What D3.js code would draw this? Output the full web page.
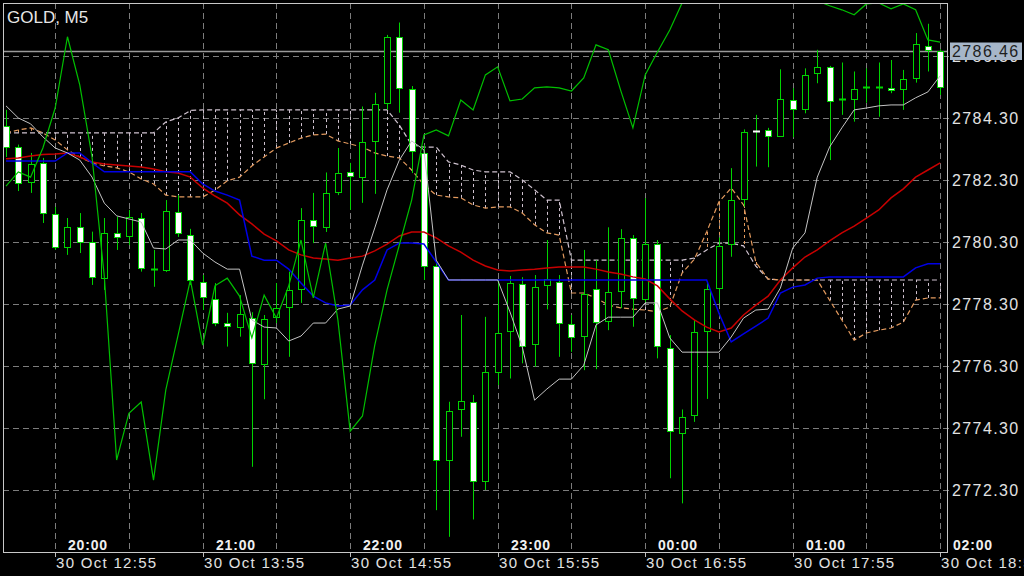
<!DOCTYPE html>
<html><head><meta charset="utf-8">
<script src="https://cdn.jsdelivr.net/npm/d3@7"></script>
<style>html,body{margin:0;padding:0;background:#000;overflow:hidden}</style>
</head><body><svg id="c" width="1024" height="576"></svg>
<script>
const title = "GOLD, M5";
const opens=[2784.05,2783.37,2782.24,2782.86,2781.21,2780.14,2780.78,2780.32,2779.13,2780.61,
 2780.50,2781.09,2779.42,2779.40,2781.28,2780.53,2779.02,2778.46,2777.68,2777.55,
 2777.86,2776.37,2777.87,2778.20,2778.79,2781.00,2780.80,2781.93,2782.58,2782.41,
 2783.57,2784.80,2786.92,2785.24,2783.17,2779.53,2773.27,2774.90,2775.13,2772.60,
 2776.12,2777.43,2778.95,2777.00,2778.92,2779.00,2777.66,2777.28,2778.78,2777.75,
 2778.72,2780.43,2778.46,2780.23,2776.87,2774.15,2774.72,2777.43,2778.81,2780.24,
 2781.68,2783.89,2783.92,2783.73,2784.89,2784.60,2785.75,2785.95,2784.91,2784.91,
 2785.30,2785.30,2785.27,2785.24,2785.59,2786.63,2786.47];
const highs=[2784.57,2783.45,2783.18,2783.02,2781.44,2781.08,2781.24,2780.64,2781.08,2781.12,
 2781.34,2781.24,2780.05,2781.66,2781.82,2780.73,2779.24,2778.98,2778.02,2778.59,
 2778.04,2777.95,2778.98,2779.35,2781.40,2781.89,2782.55,2783.34,2782.86,2784.68,
 2785.12,2786.99,2787.39,2785.34,2783.44,2779.66,2775.15,2777.95,2775.37,2777.89,
 2779.08,2779.21,2779.17,2779.24,2780.37,2779.24,2777.95,2780.05,2779.72,2780.78,
 2780.72,2780.53,2781.72,2780.37,2777.30,2774.90,2777.79,2779.01,2780.45,2782.69,
 2783.94,2784.41,2783.99,2785.88,2785.27,2785.91,2786.51,2785.99,2786.10,2785.81,
 2785.91,2786.10,2786.18,2785.86,2787.05,2787.35,2786.53];
const lows=[2783.05,2781.95,2781.89,2780.92,2780.05,2779.89,2779.95,2778.92,2778.76,2780.05,
 2780.21,2779.35,2778.86,2779.34,2780.47,2778.92,2778.11,2777.59,2776.93,2777.25,
 2773.05,2775.23,2777.69,2776.60,2778.34,2780.27,2780.63,2781.82,2781.34,2781.57,
 2781.86,2784.57,2784.48,2782.53,2779.08,2771.65,2770.79,2774.02,2771.35,2772.30,
 2775.69,2775.90,2776.39,2776.28,2778.13,2776.60,2776.76,2776.17,2776.20,2777.46,
 2778.17,2777.57,2778.35,2776.55,2772.68,2771.87,2774.50,2775.24,2778.33,2779.83,
 2781.45,2782.74,2782.72,2783.71,2783.69,2784.46,2785.43,2782.95,2784.41,2784.19,
 2784.80,2784.35,2785.11,2784.57,2785.45,2785.81,2785.05];
const closes=[2783.38,2782.22,2782.82,2781.24,2780.15,2780.79,2780.32,2779.17,2780.59,2780.48,
 2781.10,2779.46,2779.44,2781.32,2780.59,2779.08,2778.52,2777.70,2777.59,2777.98,
 2776.39,2777.81,2778.17,2778.76,2781.02,2780.82,2781.90,2782.54,2782.44,2783.54,
 2784.76,2786.92,2785.27,2783.24,2779.53,2773.27,2774.86,2775.17,2772.60,2776.12,
 2777.38,2778.97,2776.96,2778.86,2779.10,2777.70,2777.25,2778.62,2777.73,2778.70,
 2780.43,2778.51,2780.24,2776.95,2774.21,2774.66,2777.41,2778.79,2780.18,2781.66,
 2783.85,2783.88,2783.74,2784.91,2784.60,2785.70,2785.95,2784.87,2784.91,2785.24,
 2785.30,2785.30,2785.21,2785.56,2786.69,2786.51,2785.30];
const tenkan=[2784.70,2784.31,2784.12,2783.70,2783.34,2783.18,2782.95,2782.40,2781.56,2781.15,
 2781.05,2780.95,2780.11,2780.08,2780.37,2780.37,2779.95,2779.66,2779.43,2779.43,
 2777.79,2777.56,2777.53,2777.11,2777.27,2777.69,2777.69,2778.14,2778.24,2779.56,
 2780.76,2781.99,2782.95,2783.57,2783.28,2779.72,2779.08,2779.08,2779.08,2779.08,
 2779.08,2778.05,2776.92,2775.20,2775.56,2775.88,2775.88,2776.33,2777.63,2777.88,
 2777.88,2777.88,2778.34,2778.34,2777.21,2776.75,2776.75,2776.75,2776.75,2777.24,
 2777.85,2778.11,2778.14,2778.82,2780.11,2780.60,2782.40,2783.37,2783.99,2784.57,
 2784.63,2784.70,2784.73,2784.73,2784.96,2785.15,2785.67];
const kijun=[2782.92,2782.92,2782.92,2782.92,2782.92,2783.18,2783.18,2782.86,2782.57,2782.57,
 2782.57,2782.57,2782.57,2782.57,2782.57,2782.57,2782.18,2781.95,2781.82,2781.66,
 2779.85,2779.72,2779.72,2779.43,2778.98,2778.56,2778.34,2778.24,2778.27,2778.76,
 2779.08,2780.05,2780.27,2780.27,2780.24,2779.66,2779.08,2779.08,2779.08,2779.08,
 2779.08,2779.08,2779.08,2779.08,2779.08,2779.08,2779.08,2779.08,2779.08,2779.08,
 2779.08,2779.08,2779.08,2779.08,2779.08,2779.08,2779.08,2779.08,2778.01,2777.08,
 2777.34,2777.59,2777.85,2778.66,2778.85,2778.92,2779.14,2779.18,2779.18,2779.18,
 2779.18,2779.18,2779.18,2779.18,2779.47,2779.60,2779.60];
const maLine=[2782.99,2783.02,2783.08,2783.13,2783.15,2783.18,2783.05,2782.89,2782.82,2782.79,
 2782.76,2782.73,2782.66,2782.57,2782.53,2782.40,2782.05,2781.79,2781.56,2781.18,
 2780.89,2780.56,2780.34,2780.05,2779.89,2779.79,2779.76,2779.72,2779.79,2779.85,
 2780.02,2780.24,2780.50,2780.63,2780.63,2780.44,2780.18,2779.98,2779.72,2779.53,
 2779.40,2779.37,2779.40,2779.43,2779.47,2779.50,2779.50,2779.50,2779.43,2779.34,
 2779.27,2779.18,2779.11,2778.89,2778.47,2778.08,2777.79,2777.56,2777.40,2777.53,
 2777.95,2778.27,2778.56,2779.08,2779.47,2779.82,2780.05,2780.34,2780.60,2780.82,
 2781.08,2781.34,2781.73,2782.02,2782.40,2782.63,2782.86];
const spanA=[2783.83,2783.92,2783.99,2783.83,2783.60,2783.28,2783.05,2782.86,2782.76,2782.70,
 2782.57,2782.34,2782.18,2781.82,2781.76,2781.76,2781.76,2781.98,2782.28,2782.40,
 2782.76,2783.05,2783.34,2783.50,2783.66,2783.76,2783.79,2783.57,2783.47,2783.37,
 2783.18,2783.08,2783.02,2782.63,2782.15,2781.82,2781.76,2781.73,2781.50,2781.40,
 2781.44,2781.44,2781.24,2780.86,2780.60,2780.53,2778.66,2778.66,2778.50,2778.27,
 2778.18,2778.14,2778.11,2778.05,2778.21,2779.30,2779.75,2780.63,2781.60,2782.05,
 2781.50,2779.66,2779.11,2779.08,2779.08,2779.08,2779.08,2778.43,2777.79,2777.14,
 2777.37,2777.46,2777.53,2777.72,2778.43,2778.50,2778.50];
const spanB=[2783.83,2783.83,2783.83,2783.83,2783.83,2783.83,2783.83,2783.83,2783.83,2783.83,
 2783.83,2783.83,2783.83,2784.18,2784.31,2784.55,2784.57,2784.57,2784.57,2784.57,
 2784.57,2784.57,2784.57,2784.57,2784.57,2784.57,2784.57,2784.57,2784.57,2784.57,
 2784.57,2784.57,2784.08,2783.44,2783.37,2783.37,2782.89,2782.79,2782.63,2782.57,
 2782.57,2782.57,2782.31,2781.99,2781.66,2781.66,2779.72,2779.72,2779.72,2779.72,
 2779.72,2779.72,2779.72,2779.72,2779.72,2779.72,2779.79,2780.05,2780.27,2780.27,
 2780.18,2779.53,2779.11,2779.08,2779.08,2779.08,2779.08,2779.08,2779.08,2779.08,
 2779.08,2779.08,2779.08,2779.08,2779.08,2779.08,2779.08];
const chikou=[2782.11,2782.57,2782.40,2783.34,2784.63,2786.93,2785.38,2783.05,2779.18,2773.27,
 2774.78,2775.14,2772.62,2775.53,2777.30,2779.08,2776.98,2778.89,2779.14,2778.56,
 2777.21,2778.59,2777.85,2778.89,2780.37,2778.50,2780.27,2777.79,2774.20,2774.69,
 2776.98,2778.76,2780.21,2781.66,2783.76,2783.92,2783.73,2784.89,2784.57,2785.70,
 2785.96,2784.86,2784.92,2785.28,2785.31,2785.28,2785.18,2785.60,2786.67,2786.51,
 2785.21,2783.99,2785.70,2786.44,2787.15,2788.02,2788.77,2789.25,2789.09,2789.57,
 2789.41,2789.73,2789.25,2789.41,2788.93,2788.44,2788.09,2787.93,2787.80,2787.64,
 2787.99,2788.02,2787.83,2787.99,2787.80,2786.83,2786.76];
const priceTicks=[2772.30,2774.30,2776.30,2778.30,2780.30,2782.30,2784.30,2786.30];
const gridBars=[4,10,16,22,28,34,40,46,52,58,64,70,76];
const serverLabelBars=[4,16,28,40,52,64,76];
const serverLabels=["30 Oct 12:55","30 Oct 13:55","30 Oct 14:55","30 Oct 15:55","30 Oct 16:55","30 Oct 17:55","30 Oct 18:55"];
const localLabelBars=[5,17,29,41,53,65,77];
const localLabels=["20:00","21:00","22:00","23:00","00:00","01:00","02:00"];
const bidPrice=2786.46;

const W=1024,H=576;
const P={l:3,t:3,r:947,b:552};
const x=d3.scaleLinear().domain([0,76]).range([6,940.2]);
const y=d3.scaleLinear().domain([2770.30,2788.02]).range([552,3]);
const svg=d3.select('#c');
svg.append('rect').attr('width',W).attr('height',H).attr('fill','#000');
svg.append('defs').append('clipPath').attr('id','clip')
  .append('rect').attr('x',P.l).attr('y',P.t).attr('width',P.r-P.l).attr('height',P.b-P.t);

const font="'Liberation Sans', Arial, sans-serif";
const gridCol="#7c7c7c";
// grid
const grid=svg.append('g');
priceTicks.forEach(p=>{
  const yy=Math.round(y(p))+0.5;
  grid.append('line').attr('x1',P.l).attr('x2',952).attr('y1',yy).attr('y2',yy)
    .attr('stroke',gridCol).attr('stroke-dasharray','6,4');
});
gridBars.forEach(b=>{
  const xx=Math.round(x(b))+0.5;
  grid.append('line').attr('x1',xx).attr('x2',xx).attr('y1',P.t).attr('y2',P.b)
    .attr('stroke',gridCol).attr('stroke-dasharray','6,4');
});
serverLabelBars.forEach(b=>{
  const xx=Math.round(x(b))+0.5;
  grid.append('line').attr('x1',xx).attr('x2',xx).attr('y1',P.b).attr('y2',P.b+5)
    .attr('stroke','#bbb');
});

const plot=svg.append('g').attr('clip-path','url(#clip)');
const idx=d3.range(opens.length);
// cloud hatch
idx.forEach(i=>{
  const a=spanA[i],b=spanB[i];
  if(Math.abs(a-b)<0.02) return;
  const xx=Math.round(x(i))+0.5;
  plot.append('line').attr('x1',xx).attr('x2',xx).attr('y1',y(a)).attr('y2',y(b))
    .attr('stroke',a>b?'#e39a5e':'#cfc2cf').attr('stroke-width',1).attr('stroke-dasharray','3,3');
});
const line=arr=>d3.line().x((d,i)=>x(i)).y(d=>y(d))(arr);
plot.append('path').attr('d',line(spanB)).attr('fill','none').attr('stroke','#cfc2cf')
  .attr('stroke-width',1.2).attr('stroke-dasharray','5,3');
plot.append('path').attr('d',line(spanA)).attr('fill','none').attr('stroke','#e39a5e')
  .attr('stroke-width',1.2).attr('stroke-dasharray','5,3');

// bid line
const by=Math.round(y(bidPrice))+0.5;
plot.append('line').attr('x1',P.l).attr('x2',P.r).attr('y1',by).attr('y2',by)
  .attr('stroke','#9a9a9a').attr('stroke-width',1.5);

// candles
const cg="#00d400";
idx.forEach(i=>{
  const cx=Math.round(x(i));
  const o=opens[i],c=closes[i];
  plot.append('line').attr('x1',cx+0.5).attr('x2',cx+0.5).attr('y1',y(highs[i])).attr('y2',y(lows[i]))
    .attr('stroke',cg).attr('stroke-width',1);
  const top=Math.round(y(Math.max(o,c))),bot=Math.round(y(Math.min(o,c)));
  if(bot-top<2){
    plot.append('line').attr('x1',cx-3).attr('x2',cx+4).attr('y1',top+0.5).attr('y2',top+0.5)
      .attr('stroke',c<o?'#fff':cg).attr('stroke-width',2);
  } else {
    plot.append('rect').attr('x',cx-2.5).attr('y',top+0.5).attr('width',6).attr('height',bot-top)
      .attr('fill',c<o?'#fff':'#000').attr('stroke',cg).attr('stroke-width',1);
  }
});

// indicator lines
plot.append('path').attr('d',line(maLine)).attr('fill','none').attr('stroke','#c80000').attr('stroke-width',1.5);
plot.append('path').attr('d',line(kijun)).attr('fill','none').attr('stroke','#0000e6').attr('stroke-width',1.5);
plot.append('path').attr('d',line(tenkan)).attr('fill','none').attr('stroke','#c4c4c4').attr('stroke-width',1);
plot.append('path').attr('d',line(chikou)).attr('fill','none').attr('stroke','#00c000').attr('stroke-width',1.2);

// border
svg.append('rect').attr('x',P.l+0.5).attr('y',P.t+0.5).attr('width',P.r-P.l).attr('height',P.b-P.t)
  .attr('fill','none').attr('stroke','#c8c8c8').attr('stroke-width',1);

// title
svg.append('text').attr('x',7).attr('y',23).text(title).attr('fill','#e6e6e6')
  .attr('font-family',font).attr('font-size',17);

// price labels
priceTicks.forEach(p=>{
  svg.append('text').attr('x',952).attr('y',y(p)).attr('dy','0.36em').text(p.toFixed(2))
    .attr('fill','#e2e2e2').attr('font-family',font).attr('font-size',16).attr('letter-spacing','1.4px');
});
svg.append('rect').attr('x',950).attr('y',by-9).attr('width',72).attr('height',17.5).attr('fill','#a6b6c9');
svg.append('text').attr('x',952).attr('y',by).attr('dy','0.36em').text(bidPrice.toFixed(2))
  .attr('fill','#1e1e1e').attr('font-family',font).attr('font-size',16).attr('letter-spacing','1.4px');

// time labels
serverLabelBars.forEach((b,k)=>{
  svg.append('text').attr('x',Math.round(x(b))+1).attr('y',568).text(serverLabels[k])
    .attr('fill','#e2e2e2').attr('font-family',font).attr('font-size',15).attr('letter-spacing','1.3px');
});
localLabelBars.forEach((b,k)=>{
  svg.append('text').attr('x',Math.round(x(b))+1).attr('y',550).text(localLabels[k])
    .attr('fill','#f0f0f0').attr('font-family',font).attr('font-size',14).attr('font-weight','bold')
    .attr('letter-spacing','0.8px');
});
</script></body></html>
